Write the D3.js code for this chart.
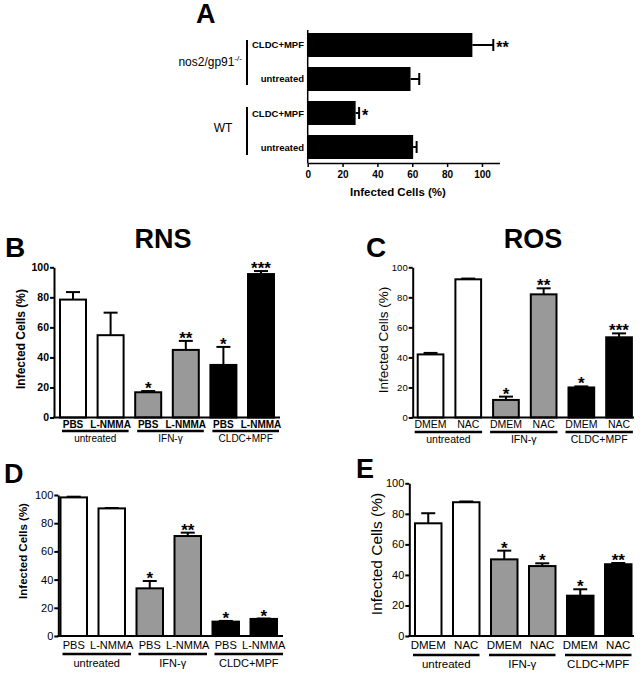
<!DOCTYPE html>
<html><head><meta charset="utf-8">
<script src="https://cdn.jsdelivr.net/npm/d3@7"></script>
<style>body{margin:0;background:#fff}svg{display:block}text{font-family:Arial,"Liberation Sans",sans-serif}</style>
</head><body><svg id="c" width="643" height="673"></svg>
<script>
// ---- data ----
const aCats = ["CLDC+MPF","untreated","CLDC+MPF","untreated"];
const aGroups = ["nos2/gp91","WT"];
const aValues = [94.5, 59, 27.5, 60.5];
const aErrs = [12, 5, 2, 2];
const aStars = ["**","","*",""];
const aTicks = [0,20,40,60,80,100];

const groupNames = ["untreated","IFN-γ","CLDC+MPF"];
const rnsTreat = ["PBS","L-NMMA"];
const rosTreat = ["DMEM","NAC"];
const yTicks = [0,20,40,60,80,100];
const groupFills = ["#ffffff","#999999","#000000"];

const bValues = [78.5, 54.8, 16.8, 45, 35, 95.5];
const bErrs = [5, 15, 0.8, 6, 12, 2];
const bStars = ["","","*","**","*","***"];

const cValues = [42, 92, 11.7, 82, 20, 53.4];
const cErrs = [1, 0.5, 2.2, 4, 0.7, 2.6];
const cStars = ["","","*","**","*","***"];

const dValues = [98.3, 90.5, 33.8, 70.9, 10.2, 12.1];
const dErrs = [0.5, 0.3, 5.2, 2.4, 0.5, 0.3];
const dStars = ["","","*","**","*","*"];

const eValues = [73.8, 87.6, 50.2, 45.8, 26.4, 47];
const eErrs = [6.6, 0.5, 5.7, 1.8, 4.2, 0.8];
const eStars = ["","","*","*","*","**"];

const svg = d3.select("#c");

// ---- Panel A ----
(function(){
  const g = svg.append("g");
  const x = d3.scaleLinear().domain([0,110]).range([307.7,499.4]);
  const y = d3.scaleBand().domain(d3.range(aCats.length)).range([30,162]).paddingInner(0.294).paddingOuter(0.088);
  g.append("text").attr("x",196).attr("y",23).attr("font-size",27).attr("font-weight","bold").text("A");
  g.selectAll("rect.bar").data(aValues).join("rect")
    .attr("x",x(0)).attr("y",(d,i)=>y(i)).attr("width",d=>x(d)-x(0)).attr("height",y.bandwidth()).attr("fill","#000");
  aValues.forEach((v,i)=>{
    const cy = y(i)+y.bandwidth()/2;
    g.append("line").attr("x1",x(v)).attr("x2",x(v+aErrs[i])).attr("y1",cy).attr("y2",cy).attr("stroke","#000").attr("stroke-width",2);
    g.append("line").attr("x1",x(v+aErrs[i])).attr("x2",x(v+aErrs[i])).attr("y1",cy-6).attr("y2",cy+6).attr("stroke","#000").attr("stroke-width",2);
    if(aStars[i]) g.append("text").attr("x",x(v+aErrs[i])+3).attr("y",cy+8).attr("font-size",16).attr("font-weight","bold").text(aStars[i]);
    g.append("text").attr("x",304).attr("y",cy+3.5).attr("text-anchor","end").attr("font-size",9.5).attr("font-weight","bold").text(aCats[i]);
  });
  const ax = g.append("g").attr("transform","translate(0,163)").call(d3.axisBottom(x).tickValues(aTicks).tickSize(4).tickSizeOuter(0));
  ax.select(".domain").attr("stroke-width",1.5);
  ax.selectAll(".tick line").attr("stroke-width",1.5);
  ax.selectAll(".tick text").attr("font-size",10).attr("font-weight","bold").attr("font-family","Arial, Liberation Sans").attr("dy","0.8em");
  g.append("line").attr("x1",x(0)).attr("x2",x(0)).attr("y1",30).attr("y2",163).attr("stroke","#000").attr("stroke-width",1.5);
  g.append("text").attr("x",398).attr("y",196).attr("text-anchor","middle").attr("font-size",11.5).attr("font-weight","bold").text("Infected Cells (%)");
  // group brackets
  const brackets = [[40,85],[107,155]];
  brackets.forEach(b=>g.append("line").attr("x1",247).attr("x2",247).attr("y1",b[0]).attr("y2",b[1]).attr("stroke","#000").attr("stroke-width",2));
  const t1 = g.append("text").attr("x",242).attr("y",66).attr("text-anchor","end").attr("font-size",12);
  t1.append("tspan").text(aGroups[0]);
  t1.append("tspan").attr("dy",-5).attr("font-size",8).text("-/-");
  g.append("text").attr("x",223).attr("y",132).attr("text-anchor","middle").attr("font-size",12).text(aGroups[1]);
})();

// ---- vertical bar panels ----
function panel(cfg){
  const g = svg.append("g");
  const n = cfg.values.length;
  const po = (cfg.firstLeft - cfg.axisX)/cfg.step;
  const pi = (cfg.step - cfg.bw)/cfg.step;
  const r1 = cfg.axisX + cfg.step*(n - pi + 2*po);
  const x = d3.scaleBand().domain(d3.range(n)).range([cfg.axisX, r1]).paddingInner(pi).paddingOuter(po);
  const y = d3.scaleLinear().domain([0,100]).range([cfg.y0, cfg.y100]);
  const fw = cfg.bold ? "bold" : "normal";
  // letter
  g.append("text").attr("x",cfg.letterX).attr("y",cfg.letterY).attr("font-size",cfg.letterSize).attr("font-weight","bold").text(cfg.letter);
  if(cfg.title) g.append("text").attr("x",cfg.titleX).attr("y",248).attr("text-anchor","middle").attr("font-size",27).attr("font-weight","bold").text(cfg.title);
  // bars
  g.selectAll("rect.bar").data(cfg.values).join("rect")
    .attr("x",(d,i)=>x(i)).attr("y",d=>y(d)).attr("width",x.bandwidth()).attr("height",d=>cfg.y0-y(d))
    .attr("fill",(d,i)=>groupFills[Math.floor(i/2)]).attr("stroke","#000").attr("stroke-width",2);
  cfg.values.forEach((v,i)=>{
    const cx = x(i)+x.bandwidth()/2, top = y(v+cfg.errs[i]);
    g.append("line").attr("x1",cx).attr("x2",cx).attr("y1",y(v)).attr("y2",top).attr("stroke","#000").attr("stroke-width",2);
    g.append("line").attr("x1",cx-7).attr("x2",cx+7).attr("y1",top).attr("y2",top).attr("stroke","#000").attr("stroke-width",2);
    if(cfg.stars[i]) g.append("text").attr("x",cx).attr("y",top+3).attr("text-anchor","middle").attr("font-size",17).attr("font-weight","bold").text(cfg.stars[i]);
    g.append("text").attr("x",cx).attr("y",cfg.labelY).attr("text-anchor","middle").attr("font-size",cfg.labSize).attr("font-weight",fw).text(cfg.treat[i%2]);
  });
  // y axis
  const ay = g.append("g").attr("transform",`translate(${cfg.axisX},0)`).call(d3.axisLeft(y).tickValues(yTicks).tickSize(4).tickSizeOuter(0));
  ay.select(".domain").attr("stroke-width",2);
  ay.selectAll(".tick line").attr("stroke-width",2);
  ay.selectAll(".tick text").attr("font-size",cfg.tickSize).attr("font-weight",fw).attr("font-family","Arial, Liberation Sans").attr("x",-5);
  // x axis line
  g.append("line").attr("x1",cfg.axisX-1).attr("x2",cfg.axisEnd).attr("y1",cfg.y0).attr("y2",cfg.y0).attr("stroke","#000").attr("stroke-width",2);
  // y title
  g.append("text").attr("transform",`translate(${cfg.ytX},${cfg.ytY}) rotate(-90)`).attr("text-anchor","middle")
    .attr("font-size",cfg.ytSize).attr("font-weight",cfg.ytBold?"bold":"normal").text("Infected Cells (%)");
  // group underlines
  groupNames.forEach((gn,k)=>{
    const a = x(2*k)+cfg.ulPad[0], b = x(2*k+1)+x.bandwidth()+cfg.ulPad[1];
    g.append("line").attr("x1",a).attr("x2",b).attr("y1",cfg.ulY).attr("y2",cfg.ulY).attr("stroke","#000").attr("stroke-width",2.5);
    g.append("text").attr("x",(a+b)/2).attr("y",cfg.groupY).attr("text-anchor","middle").attr("font-size",cfg.labSize).attr("font-weight",cfg.groupBold?"bold":"normal").text(gn);
  });
}

panel({letter:"B",letterX:5,letterY:257,letterSize:28,title:"RNS",titleX:163,
  values:bValues,errs:bErrs,stars:bStars,treat:rnsTreat,
  axisX:54,firstLeft:60,step:37.6,bw:26,axisEnd:280,y0:417.5,y100:267.3,
  bold:true,groupBold:false,tickSize:10.5,labSize:10,labelY:428,ulY:431,groupY:442,ulPad:[2,5],
  ytX:25,ytY:339,ytSize:12,ytBold:true});

panel({letter:"C",letterX:366,letterY:257,letterSize:28,title:"ROS",titleX:533,
  values:cValues,errs:cErrs,stars:cStars,treat:rosTreat,
  axisX:412.7,firstLeft:417.7,step:37.7,bw:25.7,axisEnd:634,y0:417.5,y100:267.3,
  bold:false,groupBold:false,tickSize:9.5,labSize:10.5,labelY:428,ulY:432,groupY:443,ulPad:[-3,1],
  ytX:388,ytY:340,ytSize:13.5,ytBold:false});

panel({letter:"D",letterX:4,letterY:483,letterSize:27,title:null,
  values:dValues,errs:dErrs,stars:dStars,treat:rnsTreat,
  axisX:58.3,firstLeft:60.5,step:38,bw:26.5,axisEnd:283,y0:636,y100:495,
  bold:false,groupBold:false,tickSize:11,labSize:11,labelY:648.5,ulY:654,groupY:667,ulPad:[2,6],
  ytX:27,ytY:551,ytSize:11.5,ytBold:true});

panel({letter:"E",letterX:356,letterY:478,letterSize:27,title:null,
  values:eValues,errs:eErrs,stars:eStars,treat:rosTreat,
  axisX:409.3,firstLeft:415,step:38,bw:26.5,axisEnd:634,y0:636,y100:483.3,
  bold:false,groupBold:false,tickSize:11,labSize:11.5,labelY:649,ulY:655,groupY:668,ulPad:[-2,0],
  ytX:382,ytY:554,ytSize:15.5,ytBold:false});
</script></body></html>
